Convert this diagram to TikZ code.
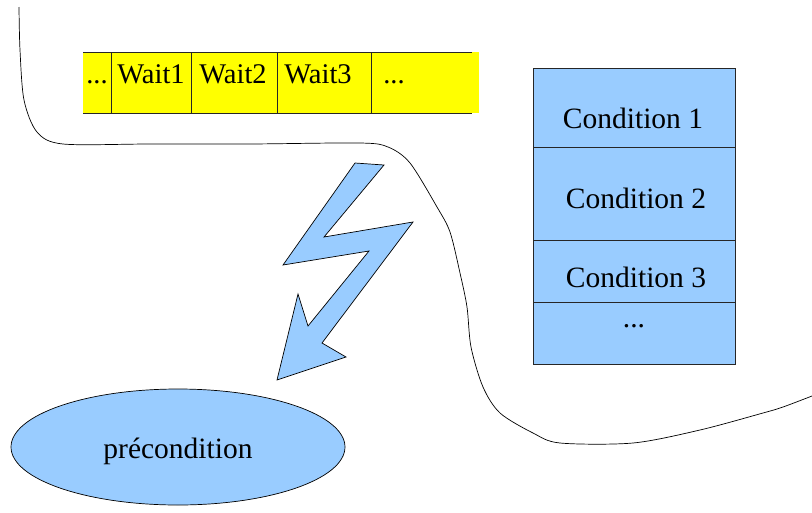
\documentclass[tikz,border=0pt]{standalone}
\usepackage{fontspec}
\setmainfont{Liberation Serif}
\usetikzlibrary{shapes.geometric}
\definecolor{lblue}{HTML}{99CCFF}
\definecolor{ylw}{HTML}{FFFF00}
\tikzset{
  lbl/.style={inner sep=0pt, anchor=base, font=\fontsize{29.5}{31}\selectfont},
  wlbl/.style={inner sep=0pt, anchor=base, font=\fontsize{28.5}{30}\selectfont},
  thin line/.style={line width=0.8pt, draw=black!85},
}
\begin{document}
\begin{tikzpicture}[x=1pt,y=-1pt]
\useasboundingbox (0,0) rectangle (812,512);
% boundary curve
\draw[line width=0.7pt] plot[smooth, tension=0.5] coordinates {
 (19,7) (20,50) (24,100) (37,132) (63,144) (150,144) (250,144) (360,143) (388,147) (410,163)
 (437,207) (450,232) (460,273) (467,307) (471,347) (483,387) (500,413) (533,433) (560,443)
 (633,443) (700,430) (763,413) (783,407) (812,396)};
% yellow wait bar
\fill[ylw] (83,52) rectangle (479,113);
\draw[thin line] (83,52) -- (472,52);
\draw[thin line] (83,113) -- (472,113);
\foreach \x in {111,191,277,371} \draw[thin line] (\x,52) -- (\x,113);
\node[wlbl] (w0) at (97,83) {...};
\node[wlbl] (w1) at (151,83) {Wait1};
\node[wlbl] (w2) at (233,83) {Wait2};
\node[wlbl] (w3) at (318,83) {Wait3};
\node[wlbl] (w4) at (394,83) {...};
% condition stack
\draw[thin line, fill=lblue] (533,68) rectangle (735,364);
\foreach \y in {147,240,302} \draw[thin line] (533,\y) -- (735,\y);
\node[lbl] (c1) at (633,128) {Condition 1};
\node[lbl] (c2) at (636,208) {Condition 2};
\node[lbl] (c3) at (636,287) {Condition 3};
\node[lbl] (c4) at (634,327) {...};
% lightning
\draw[line width=0.7pt, fill=lblue, line join=miter] (355,163) -- (384,165) -- (324,237) -- (413,222)
  -- (322,343) -- (346,357) -- (277,380) -- (298,294) -- (308,326) -- (369,251) -- (283,265) -- cycle;
% precondition ellipse
\node[ellipse, draw, line width=0.7pt, fill=lblue, minimum width=334pt, minimum height=116pt,
  inner sep=0pt] (pre) at (178,447) {};
\node[lbl] (pret) at (178,458) {précondition};
\end{tikzpicture}
\end{document}
